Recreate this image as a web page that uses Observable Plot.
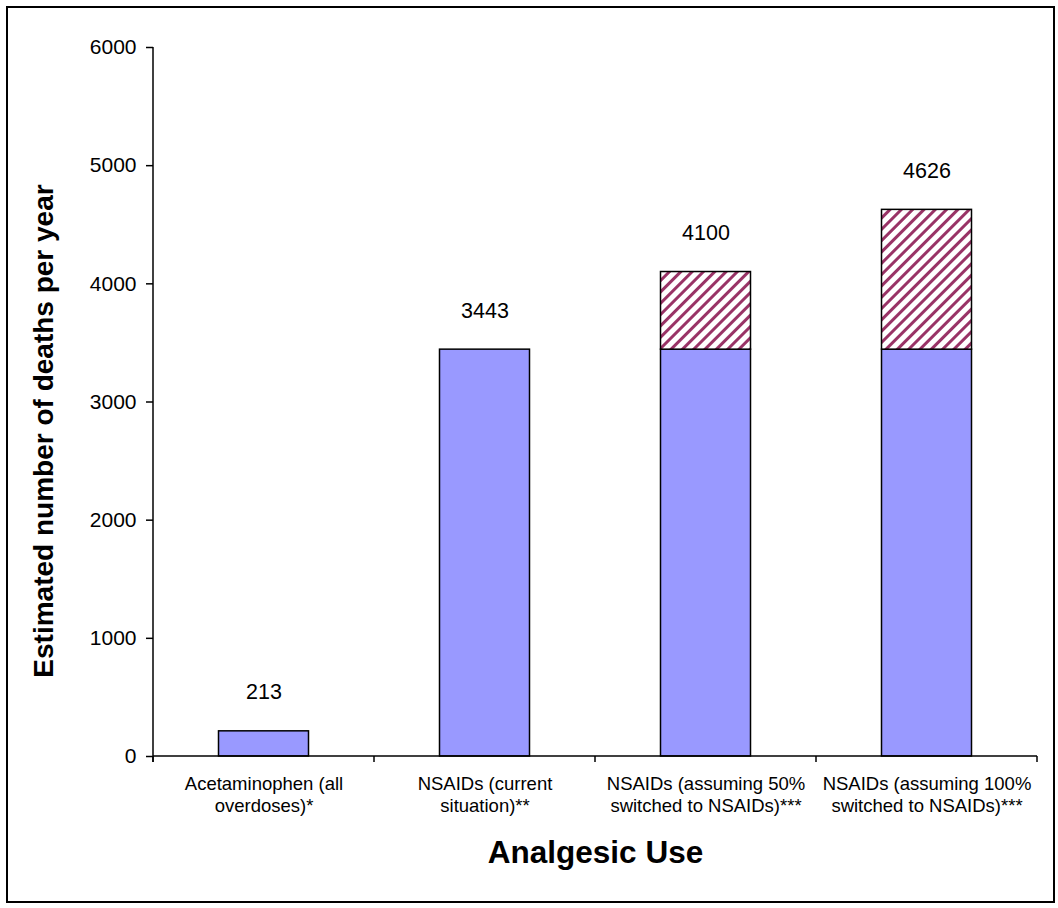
<!DOCTYPE html>
<html>
<head>
<meta charset="utf-8">
<script src="https://cdn.jsdelivr.net/npm/d3@7"></script>
<script src="https://cdn.jsdelivr.net/npm/@observablehq/plot@0.6"></script>
<style>
  html, body { margin: 0; padding: 0; background: #fff; }
  #wrap { position: relative; width: 1058px; height: 908px; }
  #border { position: absolute; left: 6px; top: 6px; width: 1049px; height: 897px; box-sizing: border-box; border: 2px solid #000; pointer-events: none; }
  #wrap svg { display: block; }
</style>
</head>
<body>
<div id="wrap"><div id="border"></div></div>
<script>
// ---- data ----
const categories = [
  "Acetaminophen (all\noverdoses)*",
  "NSAIDs (current\nsituation)**",
  "NSAIDs (assuming 50%\nswitched to NSAIDs)***",
  "NSAIDs (assuming 100%\nswitched to NSAIDs)***"
];
const baseDeaths = [213, 3443, 3443, 3443];
const addedDeaths = [0, 0, 657, 1183];
const totalLabels = [213, 3443, 4100, 4626];
const yTicks = [0, 1000, 2000, 3000, 4000, 5000, 6000];
const yTitle = "Estimated number of deaths per year";
const xTitle = "Analgesic Use";

const rows = [];
categories.forEach((c, i) => {
  rows.push({cat: c, part: "base", value: baseDeaths[i]});
  rows.push({cat: c, part: "added", value: addedDeaths[i]});
});
const labels = categories.map((c, i) => ({cat: c, total: totalLabels[i]}));

const font = "'Liberation Sans', Arial, sans-serif";

// custom axis lines + band-edge ticks drawn through the scales
function axisLines(index, scales, values, dims) {
  const x = scales.x, y = scales.y;
  const bw = (dims.width - dims.marginLeft - dims.marginRight) / categories.length;
  const g = d3.create("svg:g").attr("stroke", "#000").attr("stroke-width", 1.5);
  const y0 = y(0);
  g.append("line").attr("x1", x(categories[0])).attr("x2", x(categories[0])).attr("y1", y(6000)).attr("y2", y0 + 6);
  const edges = categories.map(c => x(c)).concat([x(categories[categories.length - 1]) + bw]);
  g.append("line").attr("x1", edges[0]).attr("x2", edges[edges.length - 1]).attr("y1", y0).attr("y2", y0);
  edges.forEach(e => g.append("line").attr("x1", e).attr("x2", e).attr("y1", y0).attr("y2", y0 + 6));
  return g.node();
}

const plot = Plot.plot({
  width: 1058,
  height: 908,
  marginLeft: 153,
  marginRight: 21,
  marginTop: 47,
  marginBottom: 152,
  style: {fontFamily: font, background: "transparent", color: "#000"},
  x: {domain: categories, padding: 0, label: null},
  y: {domain: [0, 6000], label: null},
  marks: [
    Plot.barY(rows, Plot.stackY({
      x: "cat", y: "value", order: null,
      fill: d => d.part === "base" ? "#9999FF" : "url(#hatch)",
      stroke: "#000", strokeWidth: 1.5,
      insetLeft: 65.5, insetRight: 65.5,
      filter: d => d.value > 0
    })),
    axisLines,
    Plot.axisY({ticks: yTicks, tickSize: 7, tickPadding: 10, fontSize: 21, strokeWidth: 1.5, tickFormat: d => String(d), label: null}),
    Plot.axisX({tickSize: 0, tickPadding: 18, fontSize: 18.5, lineHeight: 1.2, label: null}),
    Plot.text(labels, {x: "cat", y: "total", text: d => String(d.total), dy: -39, fontSize: 21.5, fill: "#000"}),
    Plot.text([yTitle], {frameAnchor: "left", text: d => d, rotate: -90, textAnchor: "middle", dx: -109, dy: 29, fontSize: 28, fontWeight: "bold", fill: "#000"}),
    Plot.text([xTitle], {frameAnchor: "bottom", text: d => d, textAnchor: "middle", dy: 106, fontSize: 31.5, fontWeight: "bold", fill: "#000"})
  ]
});

// hatch pattern definition
const svgNS = "http://www.w3.org/2000/svg";
const defs = document.createElementNS(svgNS, "defs");
defs.innerHTML = '<pattern id="hatch" patternUnits="userSpaceOnUse" width="8" height="8" patternTransform="rotate(45)">' +
  '<rect width="8" height="8" fill="#ffffff"/><rect x="0" y="0" width="3" height="8" fill="#993366"/></pattern>';
plot.insertBefore(defs, plot.firstChild);

document.getElementById("wrap").insertBefore(plot, document.getElementById("border"));
</script>
</body>
</html>
